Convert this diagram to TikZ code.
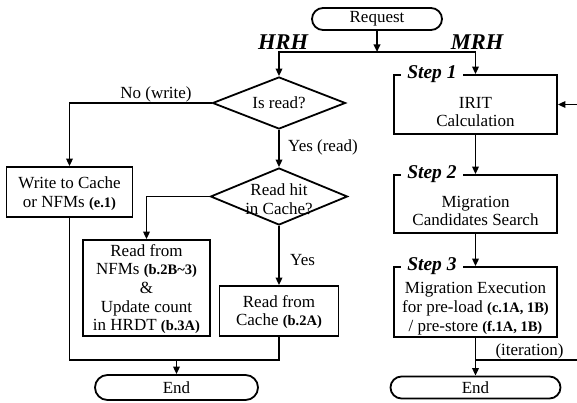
\documentclass[tikz,border=0pt]{standalone}
\usepackage{fontspec}
\setmainfont{Liberation Serif}
\usetikzlibrary{arrows.meta,shapes.geometric,shapes.misc}
\newcommand\rf[1]{{\fontsize{14.5}{18}\selectfont\bfseries #1}}
\begin{document}
\begin{tikzpicture}[x=1pt,y=-1pt,
  ln/.style={line width=1.8pt},
  arr/.style={line width=1.8pt,-{Triangle[length=7.5pt,width=6.5pt]}},
  box/.style={draw,line width=1.8pt,inner sep=0pt},
  term/.style={draw,line width=1.8pt,rounded rectangle,inner sep=0pt,font=\fontsize{17}{18.5}\selectfont},
  dia/.style={draw,line width=1.8pt,diamond,inner sep=0pt},
  txt/.style={align=center,inner sep=0pt,font=\fontsize{17}{18.7}\selectfont},
  stp/.style={fill=white,inner xsep=6pt,inner ysep=1pt,font=\fontsize{19.5}{20}\selectfont\bfseries\itshape},
  hdr/.style={inner sep=0pt,font=\fontsize{22.5}{24}\selectfont\bfseries\itshape}]
\useasboundingbox (0,0) rectangle (577,403);

% top
\node[term, minimum width=130pt, minimum height=22pt] (req) at (377,19) {Request};
\coordinate (split) at (377,52);
\node[hdr] (hrh) at (283,42) {HRH};
\node[hdr] (mrh) at (477,42) {MRH};

% left branch
\node[dia, minimum width=133pt, minimum height=52pt] (isread) at (279,103) {};
\node[txt] (isreadt) at (isread) {Is read?};
\node[dia, minimum width=137pt, minimum height=57pt] (rh) at (279,196.5) {};
\node[txt] (rht) at (279,199) {Read hit\\in Cache?};
\node[box, minimum width=126pt, minimum height=50pt] (wr) at (69.5,192) {};
\node[txt] (wrt) at (69.5,193.5) {Write to Cache\\or NFMs \rf{(e.1)}};
\node[box, minimum width=127pt, minimum height=96pt] (nfm) at (146.5,288) {};
\node[txt] (nfmt) at (146.5,289) {Read from\\NFMs \rf{(b.2B\textasciitilde3)}\\\&\\Update count\\in HRDT \rf{(b.3A)}};
\node[box, minimum width=119pt, minimum height=50pt] (cache) at (279,311) {};
\node[txt] (cachet) at (279,312) {Read from\\Cache \rf{(b.2A)}};
\node[term, minimum width=163pt, minimum height=25pt] (endL) at (176.5,387.5) {End};

% right branch
\node[box, minimum width=163pt, minimum height=59pt] (s1) at (475.5,104.5) {};
\node[txt] (s1t) at (475.5,112) {IRIT\\Calculation};
\node[box, minimum width=163pt, minimum height=58pt] (s2) at (475.5,204) {};
\node[txt] (s2t) at (475.5,211) {Migration\\Candidates Search};
\node[box, minimum width=163pt, minimum height=70pt] (s3) at (475.5,302) {};
\node[txt] (s3t) at (475.5,308.5) {Migration Execution\\for pre-load \rf{(c.1A, 1B)}\\/ pre-store \rf{(f.1A, 1B)}};
\node[term, minimum width=170pt, minimum height=22pt] (endR) at (475.5,387.5) {End};

\node[stp, anchor=west] (l1) at ([xshift=8pt]s1.north west) {Step 1};
\node[stp, anchor=west] (l2) at ([xshift=8pt]s2.north west) {Step 2};
\node[stp, anchor=west] (l3) at ([xshift=8pt]s3.north west) {Step 3};

% connectors
\draw[arr] (req.south) -- (split);
\draw[arr] (split) -| (isread.north);
\draw[arr] (split) -| (s1.north);
\draw[arr] (isread.west) -| (wr.north);
\node[txt] (nowr) at (156,94) {No (write)};
\draw[arr] (isread.south) -- (rh.north);
\node[txt, anchor=west] (yesrd) at (288,147) {Yes (read)};
\draw[arr] (rh.west) -| (nfm.north);
\draw[arr] (rh.south) -- (cache.north);
\node[txt, anchor=west] (yes) at (290,260) {Yes};
\coordinate (jL) at (176.5,360);
\draw[ln] (wr.south) |- (jL) -- (cache.south |- jL) -- (cache.south);
\draw[arr] (jL) -- (endL.north);

\draw[arr] (s1.south) -- (s2.north);
\draw[arr] (s2.south) -- (s3.north);
\draw[arr] (s3.south) -- (endR.north);
\coordinate (it) at (475.5,360);
\coordinate (itR) at (579,360);
\draw[arr] (it) -- (itR) |- (s1.east);
\node[txt] (itl) at (529.5,351) {(iteration)};
\end{tikzpicture}
\end{document}
